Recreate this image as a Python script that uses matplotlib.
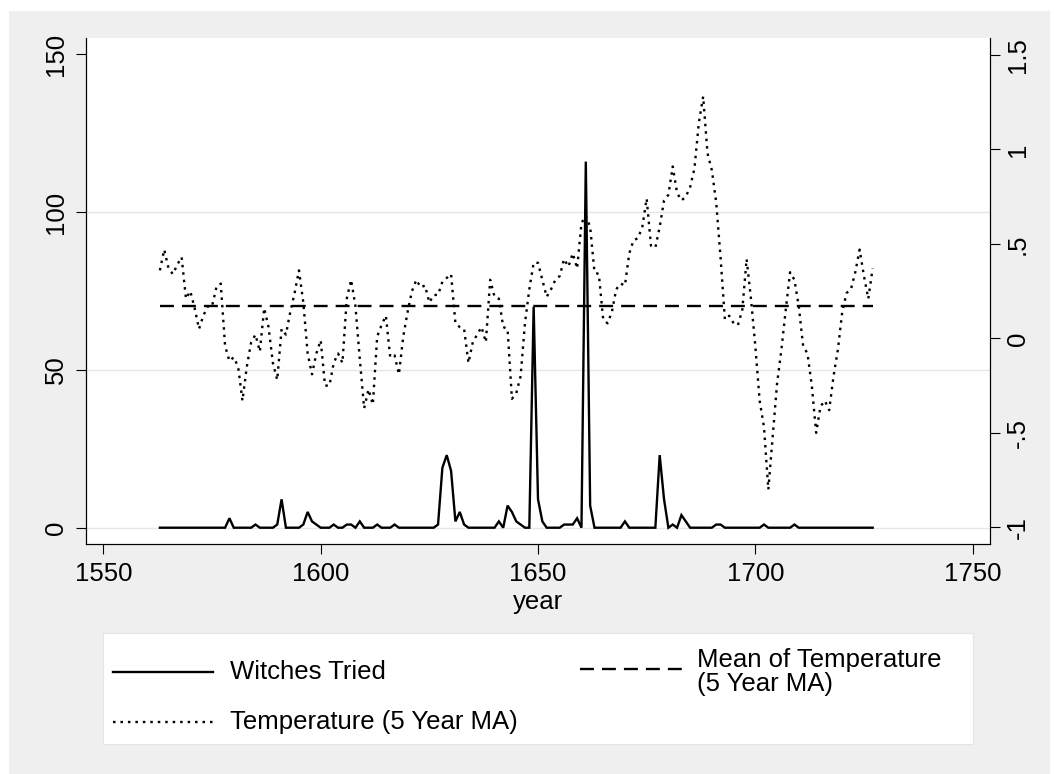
import matplotlib
matplotlib.use("Agg")
import matplotlib.pyplot as plt
from matplotlib.patches import Rectangle
from matplotlib.lines import Line2D

plt.rcParams['font.family'] = ['Liberation Sans', 'DejaVu Sans']

# ---------------- data ----------------
years = list(range(1563, 1728))

witches_tried = [
    0, 0, 0, 0, 0, 0, 0,                      # 1563-1569
    0, 0, 0, 0, 0, 0, 0, 0, 0, 3,             # 1570s
    0, 0, 0, 0, 0, 1, 0, 0, 0, 0,             # 1580s
    1, 9, 0, 0, 0, 0, 1, 5, 2, 1,             # 1590s
    0, 0, 0, 1, 0, 0, 1, 1, 0, 2,             # 1600s
    0, 0, 0, 1, 0, 0, 0, 1, 0, 0,             # 1610s
    0, 0, 0, 0, 0, 0, 0, 1, 19, 23,           # 1620s
    18, 2, 5, 1, 0, 0, 0, 0, 0, 0,            # 1630s
    0, 2, 0, 7, 5, 2, 1, 0, 0, 70,            # 1640s
    9, 2, 0, 0, 0, 0, 1, 1, 1, 3,             # 1650s
    0, 116, 7, 0, 0, 0, 0, 0, 0, 0,           # 1660s
    2, 0, 0, 0, 0, 0, 0, 0, 23, 9,            # 1670s
    0, 1, 0, 4, 2, 0, 0, 0, 0, 0,             # 1680s
    0, 1, 1, 0, 0, 0, 0, 0, 0, 0,             # 1690s
    0, 0, 1, 0, 0, 0, 0, 0, 0, 1,             # 1700s
    0, 0, 0, 0, 0, 0, 0, 0, 0, 0,             # 1710s
    0, 0, 0, 0, 0, 0, 0, 0,                   # 1720-1727
]

temperature_ma = [
    0.36, 0.47, 0.37, 0.34, 0.39, 0.43, 0.21,                     # 1563-1569
    0.25, 0.16, 0.05, 0.12, 0.17, 0.17, 0.27, 0.29, -0.04, -0.12,  # 1570s
    -0.10, -0.15, -0.33, -0.15, -0.02, 0.02, -0.07, 0.16, 0.06, -0.13,  # 1580s
    -0.22, 0.05, 0.02, 0.14, 0.24, 0.36, 0.19, -0.08, -0.19, -0.08,     # 1590s
    -0.01, -0.25, -0.25, -0.13, -0.08, -0.13, 0.21, 0.31, 0.17, -0.11,  # 1600s
    -0.37, -0.27, -0.35, 0.01, 0.07, 0.12, -0.10, -0.09, -0.19, 0.01,   # 1610s
    0.14, 0.25, 0.31, 0.27, 0.28, 0.19, 0.23, 0.23, 0.30, 0.32,         # 1620s
    0.34, 0.08, 0.06, 0.05, -0.13, -0.02, 0.02, 0.06, -0.02, 0.31,      # 1630s
    0.22, 0.21, 0.06, 0.05, -0.32, -0.29, -0.20, 0.08, 0.26, 0.40,      # 1640s
    0.40, 0.31, 0.22, 0.26, 0.31, 0.33, 0.42, 0.38, 0.45, 0.37,         # 1650s
    0.61, 0.65, 0.59, 0.35, 0.34, 0.10, 0.08, 0.14, 0.26, 0.29,         # 1660s
    0.28, 0.45, 0.52, 0.53, 0.59, 0.74, 0.49, 0.48, 0.59, 0.73,         # 1670s
    0.76, 0.91, 0.77, 0.73, 0.75, 0.80, 0.90, 1.14, 1.28, 0.98,         # 1680s
    0.89, 0.72, 0.43, 0.10, 0.12, 0.08, 0.07, 0.15, 0.42, 0.21,         # 1690s
    -0.04, -0.33, -0.47, -0.80, -0.52, -0.24, -0.06, 0.15, 0.35, 0.31, # 1700s
    0.17, -0.04, -0.08, -0.25, -0.50, -0.36, -0.33, -0.38, -0.20, -0.06,# 1710s
    0.14, 0.24, 0.26, 0.35, 0.47, 0.33, 0.21, 0.37,                     # 1720-1727
]

temperature_mean = 0.17

x_ticks = [1550, 1600, 1650, 1700, 1750]
left_ticks = [0, 50, 100, 150]
right_ticks = [-1, -0.5, 0, 0.5, 1, 1.5]
right_tick_labels = ["-1", "-.5", "0", ".5", "1", "1.5"]

legend_labels = ["Witches Tried", "Temperature (5 Year MA)",
                 "Mean of Temperature\n(5 Year MA)"]

# ---------------- figure ----------------
W, H = 1054, 774
fig = plt.figure(figsize=(W / 100, H / 100), dpi=100, facecolor="white")


def fx(px):
    return px / W


def fy(py):
    return 1 - py / H


GRAY = "#EFEFEF"
fig.patches.append(Rectangle((fx(9), 0), fx(1050) - fx(9), fy(11), transform=fig.transFigure,
                             facecolor=GRAY, edgecolor="none", zorder=-10))

ax = fig.add_axes([fx(86), fy(544), fx(990) - fx(86), fy(38) - fy(544)])
ax.set_facecolor("white")
ax2 = ax.twinx()

FS = 18.5
LW = 1.7
DOT = (0, (1.06, 2.1))
DASH = (0, (5.9, 3.4))

ax.plot(years, witches_tried, color="black", lw=LW, solid_joinstyle="miter", zorder=3)
ax2.plot(years, temperature_ma, color="black", lw=LW, linestyle=DOT, zorder=3)
ax2.plot(years, [temperature_mean] * len(years), color="black", lw=LW,
         linestyle=DASH, zorder=2)

ax.set_xlim(1546.0, 1754.0)
ax.set_ylim(-5.16, 155.16)
ax2.set_ylim(-1.0884, 1.590)

ax.set_xticks(x_ticks)
ax.set_xticklabels([str(v) for v in x_ticks], fontsize=FS)
ax.set_yticks(left_ticks)
ax.set_yticklabels([str(v) for v in left_ticks], fontsize=FS, rotation=90, va="center")
ax2.set_yticks(right_ticks)
ax2.set_yticklabels(right_tick_labels, fontsize=FS, rotation=90, va="center")

for a in (ax, ax2):
    a.tick_params(axis="both", direction="out", length=7.2, width=0.8, colors="black", pad=4)
    a.spines["top"].set_visible(False)
    for s in ("left", "right", "bottom"):
        a.spines[s].set_linewidth(0.8)
ax.tick_params(axis="y", pad=6)
ax.tick_params(axis="x", pad=6)

for gy in [0, 50, 100]:
    ax.axhline(gy, color="#E6E6E6", lw=1.0, zorder=0)

ax.set_xlabel("year", fontsize=FS, labelpad=3)

# ---------------- legend ----------------
fig.patches.append(Rectangle((fx(103), fy(744)), fx(973) - fx(103), fy(633) - fy(744),
                             transform=fig.transFigure, facecolor="white",
                             edgecolor="#E4E4E4", lw=0.8, zorder=1))
styles = ["-", DOT, DASH]
handle_pos = [(113, 213, 672), (113, 213, 722), (580, 682, 669)]
text_pos = [(230, 672), (230, 722), (697, 672)]
for st, (x0, x1, yy), (tx, ty), lab in zip(styles, handle_pos, text_pos, legend_labels):
    fig.add_artist(Line2D([fx(x0), fx(x1)], [fy(yy), fy(yy)], transform=fig.transFigure,
                          color="black", lw=LW, linestyle=st, zorder=2))
    fig.text(fx(tx), fy(ty), lab, fontsize=FS, va="center", ha="left",
             linespacing=1.05, zorder=3)

fig.savefig("out.png", dpi=100, facecolor=fig.get_facecolor())
